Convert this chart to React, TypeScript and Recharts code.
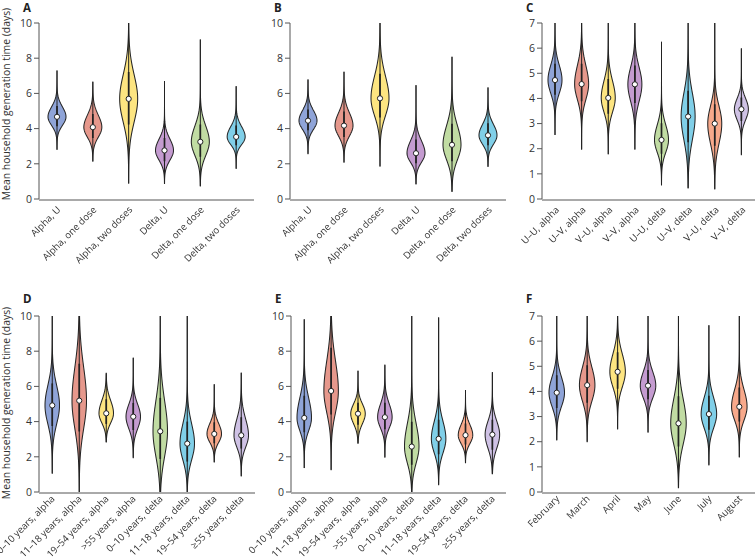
import { Bar, ComposedChart, XAxis, YAxis } from 'recharts';

const FONT = '"Open Sans", sans-serif';
const INK = '#333';
const AXIS = '#555';

// A: all households
const aLabels = ['Alpha, U', 'Alpha, one dose', 'Alpha, two doses', 'Delta, U', 'Delta, one dose', 'Delta, two doses'];
const aMin = [2.82, 2.15, 0.9, 0.88, 0.74, 1.74];
const aLo = [3.7, 2.95, 3.05, 1.65, 1.7, 2.65];
const aQ1 = [4.14, 3.46, 4.24, 2.15, 2.4, 3.05];
const aMed = [4.67, 4.08, 5.69, 2.76, 3.25, 3.53];
const aQ3 = [5.29, 4.83, 7.21, 3.47, 4.24, 4.17];
const aHi = [5.8, 5.45, 8.45, 4.05, 5.05, 4.7];
const aMax = [7.3, 6.65, 10, 6.7, 9.06, 6.41];

// B
const bLabels = aLabels;
const bMin = [2.57, 2.09, 1.85, 0.85, 0.43, 1.85];
const bLo = [3.45, 2.98, 3.74, 1.57, 1.38, 2.6];
const bQ1 = [3.9, 3.52, 4.63, 2.03, 2.15, 3.06];
const bMed = [4.45, 4.17, 5.72, 2.6, 3.08, 3.62];
const bQ3 = [5.09, 4.97, 7.12, 3.38, 4.27, 4.31];
const bHi = [5.62, 5.62, 8.26, 4.02, 5.25, 4.87];
const bMax = [6.79, 7.23, 10, 6.47, 8.08, 6.34];

// C: infector-infectee vaccination status
const cLabels = ['U–U, alpha', 'U–V, alpha', 'V–U, alpha', 'V–V, alpha', 'U–U, delta', 'U–V, delta', 'V–U, delta', 'V–V, delta'];
const cMin = [2.55, 1.98, 1.78, 1.98, 0.56, 0.44, 0.4, 1.76];
const cLo = [3.67, 3.34, 2.88, 3.21, 1.35, 1.43, 1.4, 2.72];
const cQ1 = [4.15, 3.89, 3.39, 3.82, 1.8, 2.26, 2.12, 3.1];
const cMed = [4.73, 4.57, 4.02, 4.56, 2.35, 3.28, 3.0, 3.57];
const cQ3 = [5.38, 5.38, 4.77, 5.31, 3.01, 4.31, 3.77, 4.04];
const cHi = [5.92, 6.05, 5.39, 5.92, 3.55, 5.15, 4.4, 4.43];
const cMax = [7, 7, 7, 7, 6.25, 7, 7, 5.98];

// D: age groups
const dLabels = ['0–10 years, alpha', '11–18 years, alpha', '19–54 years, alpha', '>55 years, alpha', '0–10 years, delta', '11–18 years, delta', '19–54 years, delta', '≥55 years, delta'];
const dMin = [1.06, 0, 2.84, 1.95, 0, 0, 1.7, 0.91];
const dLo = [2.8, 2.0, 3.37, 2.9, 0.6, 0.9, 2.33, 1.86];
const dQ1 = [3.75, 3.44, 3.87, 3.52, 1.88, 1.73, 2.77, 2.47];
const dMed = [4.92, 5.19, 4.47, 4.28, 3.45, 2.75, 3.3, 3.22];
const dQ3 = [6.17, 7.29, 5.27, 5.06, 5.35, 4.0, 3.96, 4.25];
const dHi = [7.2, 9.0, 5.93, 5.7, 6.9, 5.0, 4.5, 5.08];
const dMax = [10, 10, 6.74, 7.63, 10, 10, 6.12, 6.78];

// E
const eLabels = dLabels;
const eMin = [1.36, 1.26, 2.77, 1.98, 0, 0.42, 1.66, 1.04];
const eLo = [2.74, 3.3, 3.3, 3.02, 0.7, 1.42, 2.26, 1.7];
const eQ1 = [3.4, 4.4, 3.82, 3.57, 1.55, 2.14, 2.7, 2.4];
const eMed = [4.21, 5.74, 4.45, 4.25, 2.58, 3.02, 3.23, 3.26];
const eQ3 = [5.47, 8.19, 5.07, 5.07, 3.99, 4.11, 3.89, 4.11];
const eHi = [6.5, 9.15, 5.57, 5.75, 5.2, 5.0, 4.43, 4.8];
const eMax = [9.81, 10, 6.89, 7.21, 10, 9.9, 5.79, 6.79];

// F: month
const fLabels = ['February', 'March', 'April', 'May', 'June', 'July', 'August'];
const fMin = [2.07, 2.0, 2.51, 2.38, 0.17, 1.08, 1.39];
const fLo = [2.84, 2.97, 3.57, 3.24, 1.06, 1.98, 2.31];
const fQ1 = [3.34, 3.55, 4.11, 3.69, 1.81, 2.48, 2.8];
const fMed = [3.95, 4.25, 4.78, 4.23, 2.73, 3.1, 3.39];
const fQ3 = [4.64, 5.04, 5.56, 4.85, 3.81, 3.83, 4.16];
const fHi = [5.2, 5.68, 6.2, 5.35, 4.69, 4.42, 4.76];
const fMax = [7, 7, 7, 7, 7, 6.63, 7];

const PALETTE = ['#8fa4d8', '#e6988c', '#fde581', '#c49bd0', '#c1dca3', '#80cfe8', '#f8a98b', '#cfc2e5'];

type Stats = {
  labels: string[];
  min: number[];
  lo: number[];
  q1: number[];
  med: number[];
  q3: number[];
  hi: number[];
  max: number[];
};

function toRows(s: Stats) {
  return s.labels.map((name, i) => ({
    name,
    range: [s.min[i], s.max[i]],
    lo: s.lo[i],
    q1: s.q1[i],
    med: s.med[i],
    q3: s.q3[i],
    hi: s.hi[i],
  }));
}

function Violin(props: any) {
  const { x, y, width, height, payload, index } = props;
  if (!payload) return null;
  const [vMin, vMax] = payload.range;
  const top = Math.min(y, y + height);
  const bottom = Math.max(y, y + height);
  const py = (v: number) => bottom - ((bottom - top) * (v - vMin)) / (vMax - vMin || 1);
  const cx = x + width / 2;
  const sLo = (payload.med - payload.lo) / 2;
  const sHi = (payload.hi - payload.med) / 2;
  const steps = 160;
  const right: string[] = [];
  const left: string[] = [];
  for (let k = 0; k <= steps; k++) {
    const v = vMin + ((vMax - vMin) * k) / steps;
    const z = (v - payload.med) / (v < payload.med ? sLo : sHi);
    const hw = (width / 2) * Math.exp(-0.5 * z * z);
    right.push(`${(cx + hw).toFixed(2)},${py(v).toFixed(2)}`);
    left.unshift(`${(cx - hw).toFixed(2)},${py(v).toFixed(2)}`);
  }
  const d = `M${right.join('L')}L${left.join('L')}Z`;
  return (
    <g>
      <path d={d} fill={PALETTE[index % PALETTE.length]} stroke="#262626" strokeWidth={1.05} />
      <line x1={cx} x2={cx} y1={py(vMin)} y2={py(vMax)} stroke="#222" strokeWidth={1} />
      <line x1={cx} x2={cx} y1={py(payload.q1)} y2={py(payload.q3)} stroke="#222" strokeWidth={1.7} />
      <circle cx={cx} cy={py(payload.med)} r={2.6} fill="#fff" stroke="#222" strokeWidth={1} />
    </g>
  );
}

function makeTick(dx: number, dy: number) {
  return function XTick(props: any) {
    const { x, y, payload } = props;
    return (
      <g transform={`translate(${x + dx},${y + dy}) rotate(-45)`} style={{ filter: 'grayscale(1)' }}>
        <text
          x={0}
          y={0}
          dy="0.35em"
          textAnchor="end"
          fontSize={9.6}
          fontFamily={FONT}
          fill={INK}
          stroke="none"
        >
          {payload.value}
        </text>
      </g>
    );
  };
}
const TopTick = makeTick(2, 7);
const BottomTick = makeTick(0.5, 3);

type PanelProps = {
  stats: Stats;
  letter: string;
  left: number;
  top: number;
  width: number;
  height: number;
  plotTop: number;
  plotBottom: number;
  yWidth: number;
  rightPad: number;
  yMax: number;
  barSize: number;
  lower?: boolean;
  title?: { x: number; y: number };
};

function Panel({ stats, letter, left, top, width, height, plotTop, plotBottom, yWidth, rightPad, yMax, barSize, lower, title }: PanelProps) {
  const rows = toRows(stats);
  const n = rows.length;
  const step = yMax > 7 ? 2 : 1;
  const yTicks: number[] = [];
  for (let t = 0; t <= yMax; t += step) yTicks.push(t);
  const bounds: number[] = [];
  for (let t = 0; t <= n; t++) bounds.push(t);
  const Tick = lower ? BottomTick : TopTick;
  return (
    <div style={{ position: 'absolute', left, top, width, height }}>
      <div
        style={{
          position: 'absolute',
          left: yWidth - 16,
          top: Math.max(0, plotTop - 25),
          fontFamily: FONT,
          fontWeight: 700,
          fontSize: 11.5,
          color: '#222',
        }}
      >
        {letter}
      </div>
      <ComposedChart
        width={width}
        height={height}
        data={rows}
        margin={{ top: plotTop, right: rightPad, bottom: height - plotBottom - 2, left: 0 }}
        barCategoryGap={0}
      >
        <XAxis
          xAxisId="bounds"
          type="number"
          domain={[0, n]}
          ticks={bounds}
          tick={false}
          tickSize={4}
          height={1}
          stroke={AXIS}
          allowDataOverflow
        />
        <XAxis dataKey="name" height={1} axisLine={false} tickLine={false} tickSize={0} interval={0} tick={<Tick />} />
        <YAxis
          domain={[0, yMax]}
          ticks={yTicks}
          width={yWidth}
          tickSize={5}
          tickMargin={2}
          stroke={AXIS}
          tick={{ fontSize: 10.5, fill: INK, fontFamily: FONT }}
          allowDataOverflow
          label={
            title
              ? () => (
                  <text
                    x={title.x}
                    y={title.y}
                    transform={`rotate(-90 ${title.x} ${title.y})`}
                    textAnchor="middle"
                    dominantBaseline="middle"
                    fontSize={10.4}
                    fill={INK}
                    fontFamily={FONT}
                  >
                    Mean household generation time (days)
                  </text>
                )
              : undefined
          }
        />
        <Bar dataKey="range" barSize={barSize} shape={<Violin />} isAnimationActive={false} />
      </ComposedChart>
    </div>
  );
}

export default function App() {
  return (
    <div style={{ position: 'absolute', left: 0, top: 0, width: 755, height: 559, background: '#fff', overflow: 'hidden' }}>
      <style>{'.recharts-surface { overflow: visible; }'}</style>
      <Panel
        stats={{ labels: aLabels, min: aMin, lo: aLo, q1: aQ1, med: aMed, q3: aQ3, hi: aHi, max: aMax }}
        letter="A" left={0} top={0} width={258} height={270} plotTop={23} plotBottom={199}
        yWidth={39} rightPad={4} yMax={10} barSize={18} title={{ x: 7.5, y: 104 }}
      />
      <Panel
        stats={{ labels: bLabels, min: bMin, lo: bLo, q1: bQ1, med: bMed, q3: bQ3, hi: bHi, max: bMax }}
        letter="B" left={250} top={0} width={260} height={270} plotTop={23} plotBottom={199}
        yWidth={40} rightPad={4} yMax={10} barSize={18}
      />
      <Panel
        stats={{ labels: cLabels, min: cMin, lo: cLo, q1: cQ1, med: cMed, q3: cQ3, hi: cHi, max: cMax }}
        letter="C" left={500} top={0} width={255} height={270} plotTop={23} plotBottom={199}
        yWidth={42} rightPad={0} yMax={7} barSize={14}
      />
      <Panel
        stats={{ labels: dLabels, min: dMin, lo: dLo, q1: dQ1, med: dMed, q3: dQ3, hi: dHi, max: dMax }}
        letter="D" left={0} top={270} width={258} height={289} plotTop={46} plotBottom={222}
        yWidth={39} rightPad={3} yMax={10} barSize={14.5} lower title={{ x: 7.5, y: 133 }}
      />
      <Panel
        stats={{ labels: eLabels, min: eMin, lo: eLo, q1: eQ1, med: eMed, q3: eQ3, hi: eHi, max: eMax }}
        letter="E" left={250} top={270} width={260} height={289} plotTop={46} plotBottom={222}
        yWidth={41} rightPad={4} yMax={10} barSize={14.5} lower
      />
      <Panel
        stats={{ labels: fLabels, min: fMin, lo: fLo, q1: fQ1, med: fMed, q3: fQ3, hi: fHi, max: fMax }}
        letter="F" left={500} top={270} width={255} height={289} plotTop={46} plotBottom={222}
        yWidth={42} rightPad={0} yMax={7} barSize={15.5} lower
      />
    </div>
  );
}
